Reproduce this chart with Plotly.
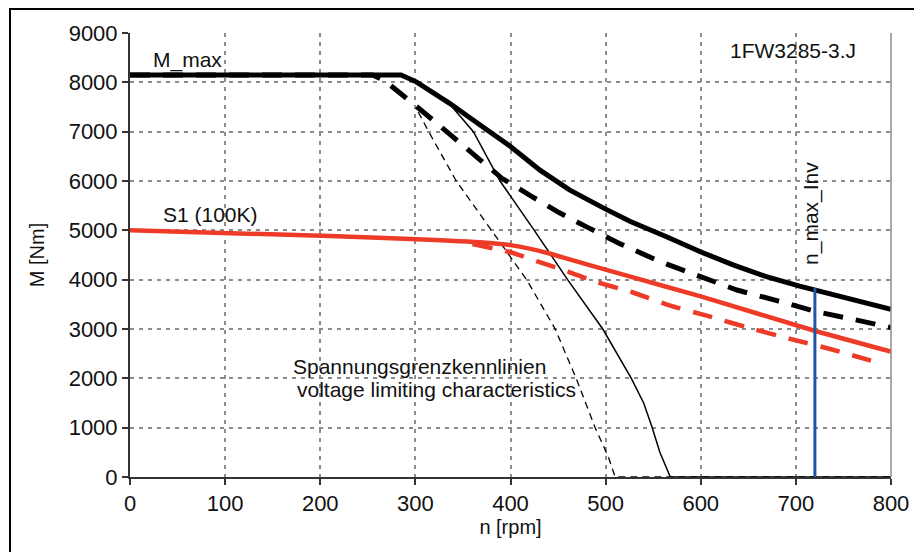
import plotly.graph_objects as go

# Kennlinien 1FW3285-3.J
n_mmax = [0, 285, 301, 336, 368, 400, 431, 462, 498, 526, 564, 599, 634, 669, 704, 739, 800]
m_mmax = [8150, 8150, 8010, 7575, 7136, 6700, 6220, 5820, 5450, 5180, 4870, 4570, 4300, 4060, 3870, 3690, 3400]

n_mmax_red = [0, 255, 268, 280, 307, 336, 365, 391, 423, 451, 481, 516, 558, 598, 638, 680, 722, 764, 800]
m_mmax_red = [8150, 8150, 8030, 7850, 7420, 6950, 6480, 6055, 5680, 5360, 5060, 4720, 4360, 4080, 3790, 3575, 3350, 3180, 3030]

n_s1 = [0, 210, 315, 378, 400, 420, 441, 462, 484, 526, 600, 717, 800]
m_s1 = [5000, 4885, 4810, 4745, 4700, 4630, 4530, 4410, 4290, 4060, 3660, 2980, 2540]

n_s1_red = [360, 401, 429, 461, 489, 528, 568, 610, 652, 694, 736, 777, 790]
m_s1_red = [4720, 4550, 4365, 4160, 3960, 3745, 3475, 3250, 3015, 2800, 2595, 2370, 2300]

n_ugrenz = [336, 361, 389, 425, 460, 497, 527, 540, 549, 557, 568, 800]
m_ugrenz = [7560, 7000, 6000, 5000, 4000, 3000, 2000, 1500, 1000, 500, 0, 0]

n_ugrenz_red = [303, 314, 343, 380, 417, 447, 469, 489, 503, 510, 800]
m_ugrenz_red = [7400, 7000, 6000, 5000, 4000, 3000, 2000, 1000, 400, 0, 0]

n_max_inv = 720
m_max_inv = 3830

SCHWARZ = "#000000"
ROT = "#ee3b27"
BLAU = "#1f55a5"
FONT = "Liberation Sans, Arial, sans-serif"

fig = go.Figure()

fig.add_trace(go.Scatter(x=n_ugrenz_red, y=m_ugrenz_red, mode="lines",
                         line=dict(color=SCHWARZ, width=1.3, dash="7px,5px")))
fig.add_trace(go.Scatter(x=n_ugrenz, y=m_ugrenz, mode="lines",
                         line=dict(color=SCHWARZ, width=1.5)))
fig.add_trace(go.Scatter(x=n_s1_red, y=m_s1_red, mode="lines", line_shape="spline",
                         line=dict(color=ROT, width=4.5, dash="20px,13px", smoothing=0.5)))
fig.add_trace(go.Scatter(x=n_s1, y=m_s1, mode="lines", line_shape="spline",
                         line=dict(color=ROT, width=4.5, smoothing=0.5)))
fig.add_trace(go.Scatter(x=n_mmax_red, y=m_mmax_red, mode="lines",
                         line=dict(color=SCHWARZ, width=5, dash="20px,13px")))
fig.add_trace(go.Scatter(x=n_mmax, y=m_mmax, mode="lines",
                         line=dict(color=SCHWARZ, width=5)))
# n_max_Inv
fig.add_trace(go.Scatter(x=[n_max_inv, n_max_inv], y=[0, m_max_inv], mode="lines",
                         line=dict(color=BLAU, width=3)))

txt = dict(family=FONT, size=21, color="#111111")
fig.add_annotation(x=60, y=8450, text="M_max", showarrow=False, font=txt)
fig.add_annotation(x=85, y=5330, text="S1 (100K)", showarrow=False, font=txt)
fig.add_annotation(x=697, y=8650, text="1FW3285-3.J", showarrow=False, font=txt)
fig.add_annotation(x=304, y=2250, text="Spannungsgrenzkennlinien", showarrow=False, font=txt)
fig.add_annotation(x=322, y=1764, text="voltage limiting characteristics", showarrow=False, font=txt)
fig.add_annotation(x=716, y=4250, text="n_max_Inv", showarrow=False, textangle=-90,
                   xanchor="center", yanchor="bottom", font=txt)

# rechter Rand grau, äußerer Rahmen
fig.add_shape(type="line", xref="paper", yref="paper", x0=1, x1=1, y0=0, y1=1,
              line=dict(color="#8c8c8c", width=1.5))
fig.add_shape(type="rect", xref="paper", yref="paper", x0=-0.1577, x1=1.0381,
              y0=-0.25, y1=1.054, line=dict(color="#000000", width=2))

achse = dict(showline=True, linecolor="#333333", linewidth=2, ticks="outside",
             ticklen=6, tickcolor="#333333", tickwidth=1.5, automargin=False,
             showgrid=True, gridcolor="#8c8c8c", gridwidth=1.5, griddash="4px,5px",
             zeroline=False, tickfont=dict(family=FONT, size=22, color="#111111"))

fig.update_xaxes(range=[0, 800], dtick=100, tick0=0,
                 title=dict(text="n [rpm]", font=dict(family=FONT, size=20, color="#111111"),
                            standoff=4), **achse)
fig.update_yaxes(range=[0, 9000], dtick=1000, tick0=0,
                 title=dict(text="M [Nm]", font=dict(family=FONT, size=20, color="#111111"),
                            standoff=19), **achse)

# Seite hat 8px Rand -> Figur etwas kleiner
fig.update_layout(width=914, height=544, showlegend=False,
                  margin=dict(l=122, r=31, t=25, b=75),
                  plot_bgcolor="white", paper_bgcolor="white")

fig.write_html("out.html")
